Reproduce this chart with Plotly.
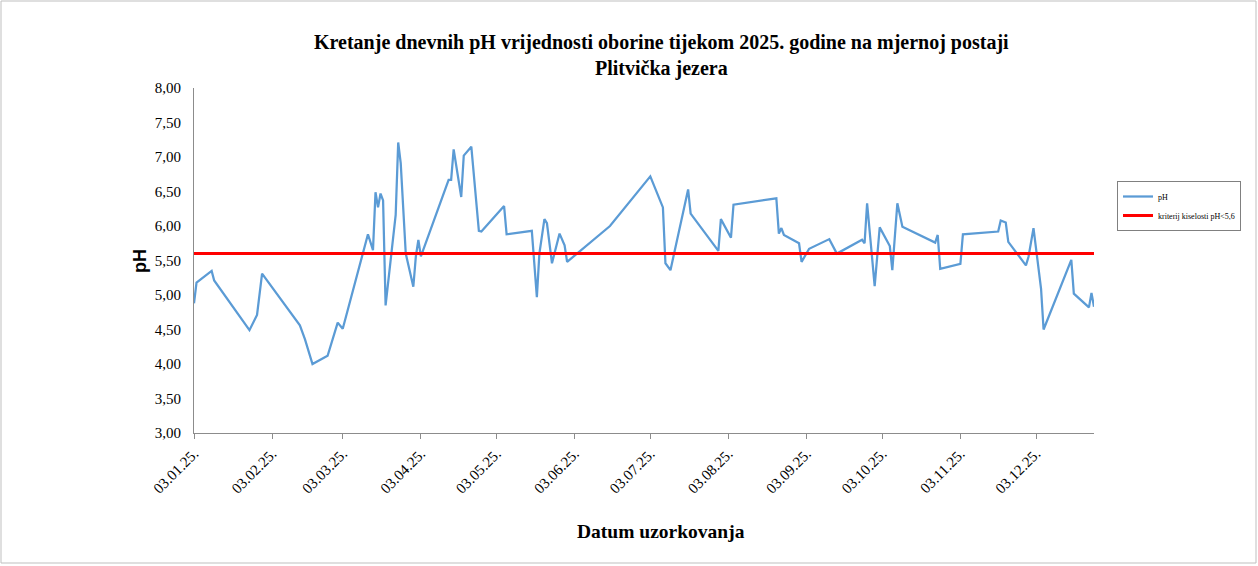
import plotly.graph_objects as go

dates = [
    "2025-01-03", "2025-01-04", "2025-01-10", "2025-01-11", "2025-01-25", "2025-01-28", "2025-01-30",
    "2025-02-14", "2025-02-16", "2025-02-19", "2025-02-25", "2025-03-01", "2025-03-03", "2025-03-13",
    "2025-03-15", "2025-03-16", "2025-03-17", "2025-03-18", "2025-03-19", "2025-03-20", "2025-03-24",
    "2025-03-25", "2025-03-26", "2025-03-28", "2025-03-31", "2025-04-01", "2025-04-02", "2025-04-03",
    "2025-04-14", "2025-04-15", "2025-04-16", "2025-04-19", "2025-04-20", "2025-04-23", "2025-04-26",
    "2025-04-27", "2025-05-06", "2025-05-07", "2025-05-17", "2025-05-19", "2025-05-20", "2025-05-22",
    "2025-05-23", "2025-05-25", "2025-05-28", "2025-05-30", "2025-05-31", "2025-06-17", "2025-07-03",
    "2025-07-08", "2025-07-09", "2025-07-11", "2025-07-18", "2025-07-19", "2025-07-30", "2025-07-31",
    "2025-08-04", "2025-08-05", "2025-08-22", "2025-08-23", "2025-08-24", "2025-08-25", "2025-08-31",
    "2025-09-01", "2025-09-04", "2025-09-12", "2025-09-15", "2025-09-25", "2025-09-26", "2025-09-27",
    "2025-09-30", "2025-10-02", "2025-10-06", "2025-10-07", "2025-10-09", "2025-10-11", "2025-10-24",
    "2025-10-25", "2025-10-26", "2025-11-03", "2025-11-04", "2025-11-18", "2025-11-19", "2025-11-21",
    "2025-11-22", "2025-11-29", "2025-11-30", "2025-12-02", "2025-12-05", "2025-12-06", "2025-12-17",
    "2025-12-18", "2025-12-24", "2025-12-25", "2025-12-26",
]
ph_values = [
    4.88, 5.18, 5.35, 5.21, 4.49, 4.71, 5.31,
    4.56, 4.36, 4.00, 4.12, 4.60, 4.51, 5.88,
    5.65, 6.49, 6.27, 6.47, 6.37, 4.85, 6.16,
    7.21, 6.91, 5.60, 5.12, 5.56, 5.80, 5.56,
    6.67, 6.67, 7.11, 6.42, 7.02, 7.15, 5.93,
    5.92, 6.29, 5.88, 5.93, 4.97, 5.60, 6.10,
    6.04, 5.46, 5.89, 5.72, 5.48, 6.00, 6.72,
    6.27, 5.46, 5.36, 6.53, 6.18, 5.64, 6.10,
    5.83, 6.31, 6.40, 5.89, 5.97, 5.87, 5.75,
    5.48, 5.67, 5.81, 5.60, 5.80, 5.75, 6.33,
    5.13, 5.98, 5.71, 5.36, 6.33, 5.99, 5.76,
    5.87, 5.38, 5.45, 5.88, 5.92, 6.08, 6.05,
    5.77, 5.43, 5.55, 5.97, 5.09, 4.50, 5.51,
    5.02, 4.82, 5.03, 4.83,
]
criterion_value = 5.6
criterion_dates = [dates[0], dates[-1]]
criterion_values = [criterion_value, criterion_value]

tick_dates = ["2025-%02d-03" % m for m in range(1, 13)]
tick_labels = ["03.%02d.25." % m for m in range(1, 13)]

title_text = "Kretanje dnevnih pH vrijednosti oborine tijekom 2025. godine na mjernoj postaji<br>Plitvička jezera"

W, H = 1258, 566
L, R, T, B = 194, 164, 88, 133
PW, PH = W - L - R, H - T - B

def px(x):
    return (x - L) / PW

def py(y):
    return (H - B - y) / PH

serif = "Liberation Serif, Times New Roman, serif"

fig = go.Figure()
fig.add_trace(go.Scatter(x=dates, y=ph_values, mode="lines", name="pH",
                         line=dict(color="#5B9BD5", width=2.25)))
fig.add_trace(go.Scatter(x=criterion_dates, y=criterion_values, mode="lines",
                         name="kriterij kiselosti pH<5,6",
                         line=dict(color="#FF0000", width=3)))

fig.update_layout(
    width=W, height=H,
    margin=dict(l=L, r=R, t=T, b=B),
    paper_bgcolor="white", plot_bgcolor="white",
    separators=",.",
    font=dict(family=serif, color="#000000"),
    showlegend=True,
    legend=dict(x=px(1117), y=py(181), xanchor="left", yanchor="top",
                bordercolor="#808080", borderwidth=1,
                font=dict(family=serif, size=8, color="#000000"),
                tracegroupgap=0, itemwidth=30),
    xaxis=dict(type="date", range=[dates[0], dates[-1]],
               tickmode="array", tickvals=tick_dates, ticktext=tick_labels,
               tickangle=-45, tickfont=dict(family=serif, size=15, color="#000000"),
               showline=True, linecolor="#8C8C8C", linewidth=1,
               ticks="outside", ticklen=5, tickcolor="#8C8C8C",
               showgrid=False, zeroline=False),
    yaxis=dict(range=[3, 8], dtick=0.5, tick0=3, tickformat=".2f",
               tickfont=dict(family=serif, size=15, color="#000000"),
               ticklabelstandoff=9,
               showline=True, linecolor="#8C8C8C", linewidth=1,
               ticks="", showgrid=False, zeroline=False),
    annotations=[
        dict(text="<b>" + title_text + "</b>", x=px(661), y=py(55), xref="paper", yref="paper",
             xanchor="center", yanchor="middle", showarrow=False,
             font=dict(family=serif, size=20, color="#000000")),
        dict(text="<b>Datum uzorkovanja</b>", x=px(661), y=py(531), xref="paper", yref="paper",
             xanchor="center", yanchor="middle", showarrow=False,
             font=dict(family=serif, size=19.5, color="#000000")),
        dict(text="<b>pH</b>", x=px(140), y=py(261), xref="paper", yref="paper",
             xanchor="center", yanchor="middle", showarrow=False, textangle=-90,
             font=dict(family="Liberation Sans, Arial, sans-serif", size=18, color="#000000")),
    ],
    shapes=[
        dict(type="rect", xref="paper", yref="paper",
             x0=px(1), x1=px(1256), y0=py(563), y1=py(1),
             line=dict(color="#BFBFBF", width=1), fillcolor="rgba(0,0,0,0)", layer="below"),
    ],
)

fig.write_html("out.html", config={"displayModeBar": False},
               post_script="document.body.style.margin='0px';")
